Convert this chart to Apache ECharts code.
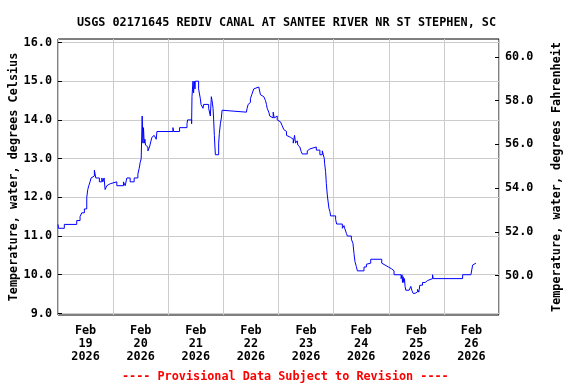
<!DOCTYPE html>
<html><head><meta charset="utf-8">
<script src="https://cdn.jsdelivr.net/npm/echarts@6/dist/echarts.min.js"></script>
<style>html,body{margin:0;padding:0;background:#fff}#c{width:576px;height:384px}</style>
</head><body><div id="c"></div>
<script>
const chartTitle = 'USGS 02171645 REDIV CANAL AT SANTEE RIVER NR ST STEPHEN, SC';
const footerText = '---- Provisional Data Subject to Revision ----';
const leftAxisName = 'Temperature, water, degrees Celsius';
const rightAxisName = 'Temperature, water, degrees Fahrenheit';
const monthLabel = 'Feb';
const yearLabel = '2026';
const dayLabels = ['19', '20', '21', '22', '23', '24', '25', '26'];
const labelHours = [12, 36, 60, 84, 108, 132, 156, 180];
const celsiusTicks = [9, 10, 11, 12, 13, 14, 15, 16];
const fahrenheitTicks = [50, 52, 54, 56, 58, 60];

// hours since 2026-02-19 00:00
const hours = [0, 0.22, 2.75, 8.16, 9.60, 10.34, 11.48, 12.52, 12.96, 13.40, 13.96, 14.40, 14.97, 15.84, 16.45,
  18.02, 19.07, 19.51, 20.07, 20.51, 21.25, 21.95, 22.69, 25.61, 28.49, 29.24, 29.98, 31.42, 33.16, 34.78,
  35.35, 35.78, 36.22, 36.65, 36.96, 37.22, 37.53, 37.83, 38.09, 38.71, 39.14, 39.84, 40.45, 40.89, 41.32,
  41.89, 42.33, 42.76, 43.07, 45.25, 45.69, 50.05, 50.31, 52.93, 56.16, 56.42, 58.17, 58.34, 58.78, 59.04,
  59.35, 59.65, 59.78, 61.22, 61.96, 62.27, 63.14, 63.40, 65.59, 66.33, 66.76, 67.07, 67.51, 67.77, 68.07,
  68.51, 69.95, 70.25, 70.69, 71.13, 71.43, 71.70, 72.00, 82.04, 82.34, 82.78, 83.22, 83.78, 84.35, 84.79,
  85.22, 85.96, 87.40, 88.15, 88.45, 89.59, 90.33, 90.76, 91.07, 91.77, 92.20, 92.95, 93.69, 94.12, 94.69,
  95.43, 96.13, 96.87, 97.61, 98.31, 99.05, 99.49, 100.06, 101.24, 102.42, 102.98, 103.42, 103.72, 104.16,
  104.42, 104.86, 105.30, 105.90, 106.34, 108.52, 108.96, 109.66, 112.45, 114.02, 115.07, 115.51, 115.94,
  116.07, 116.51, 116.82, 117.25, 117.51, 117.95, 118.39, 118.69, 120.87, 121.31, 123.80, 124.50, 124.80,
  125.24, 125.54, 125.98, 127.72, 128.42, 128.86, 129.29, 129.91, 130.34, 133.22, 134.27, 135.14, 136.15,
  140.94, 141.51, 142.39, 143.87, 145.31, 146.31, 149.37, 149.80, 149.98, 150.24, 150.54, 150.85, 151.11,
  151.42, 152.86, 153.60, 154.04, 154.60, 155.48, 156.52, 157.09, 157.53, 158.71, 159.84, 160.89, 163.07,
  163.33, 176.16, 179.78, 180.52, 181.22, 181.96];
const tempC = [11.3, 11.2, 11.3, 11.4, 11.5, 11.6, 11.7, 12.0, 12.2, 12.3, 12.4, 12.5, 12.55, 12.7, 12.5,
  12.4, 12.5, 12.4, 12.5, 12.2, 12.3, 12.35, 12.4, 12.3, 12.4, 12.3, 12.5, 12.4, 12.5, 12.6,
  12.75, 12.9, 13.0, 14.1, 13.4, 13.8, 13.4, 13.5, 13.35, 13.3, 13.2, 13.3, 13.45, 13.55, 13.6,
  13.55, 13.6, 13.5, 13.7, 13.65, 13.7, 13.8, 13.7, 13.8, 13.9, 14.0, 13.9, 14.6, 15.0, 14.7,
  15.0, 14.8, 15.0, 14.8, 14.55, 14.4, 14.3, 14.4, 14.3, 14.1, 14.6, 14.5, 14.3, 14.0, 13.6,
  13.1, 13.4, 13.65, 13.9, 14.05, 14.25, 14.3, 14.2, 14.25, 14.3, 14.4, 14.45, 14.55, 14.65, 14.7,
  14.8, 14.85, 14.8, 14.65, 14.6, 14.55, 14.5, 14.4, 14.3, 14.2, 14.1, 14.05, 14.2, 14.05, 14.1,
  14.0, 13.95, 13.9, 13.85, 13.75, 13.7, 13.6, 13.55, 13.5, 13.4, 13.6, 13.4, 13.38, 13.46,
  13.35, 13.3, 13.25, 13.18, 13.12, 13.2, 13.25, 13.3, 13.22, 13.1, 13.2, 13.1, 13.0,
  12.88, 12.66, 12.36, 12.06, 11.93, 11.72, 11.63, 11.52, 11.43, 11.31, 11.2, 11.27, 11.2,
  11.13, 11.07, 11.0, 10.92, 10.81, 10.55, 10.34, 10.21, 10.1, 10.2, 10.27, 10.3, 10.4,
  10.3, 10.25, 10.2, 10.15, 10.1, 10.0, 9.9, 10.0, 9.8, 9.95, 9.8, 9.9, 9.7,
  9.6, 9.65, 9.7, 9.6, 9.52, 9.56, 9.62, 9.55, 9.73, 9.8, 9.85, 9.9, 10.0,
  9.9, 10.0, 10.05, 10.25, 10.3, 10.3];

const FONT = 'DejaVu Sans Mono';
const FS = 11.8;
const chart = echarts.init(document.getElementById('c'), null, {renderer: 'canvas'});
chart.setOption({
  animation: false,
  backgroundColor: '#ffffff',
  title: [
    {text: chartTitle, left: 72, top: 12,
     textStyle: {fontFamily: FONT, fontWeight: 'bold', fontSize: FS, color: '#000'}},
    {text: footerText, left: 117, top: 366,
     textStyle: {fontFamily: FONT, fontWeight: 'bold', fontSize: FS, color: '#ff0000'}}
  ],
  grid: {left: 58, right: 77, top: 39, bottom: 69, show: true, outerBoundsMode: 'none', containLabel: false,
         borderColor: '#000', borderWidth: 1, backgroundColor: 'transparent'},
  xAxis: {
    type: 'value', min: 0, max: 192, interval: 24,
    axisLine: {show: false},
    axisTick: {show: false},
    splitLine: {show: true, lineStyle: {color: '#cccccc', width: 1}},
    axisLabel: {
      customValues: labelHours,
      margin: 9,
      lineHeight: 13,
      fontFamily: FONT, fontWeight: 'bold', fontSize: FS, color: '#000',
      formatter: v => monthLabel + '\n' + dayLabels[labelHours.indexOf(Math.round(v))] + '\n' + yearLabel
    }
  },
  yAxis: [
    {
      type: 'value', position: 'left', min: 8.96, max: 16.09,
      name: leftAxisName, nameLocation: 'middle', nameGap: 38, nameRotate: 90, nameMoveOverlap: false,
      nameTextStyle: {fontFamily: FONT, fontWeight: 'bold', fontSize: FS, color: '#000'},
      axisLine: {show: false},
      axisTick: {show: true, inside: true, length: 4, customValues: celsiusTicks, lineStyle: {color: '#000'}},
      splitLine: {show: true, lineStyle: {color: '#cccccc', width: 1}},
      axisLabel: {customValues: celsiusTicks, margin: 6, fontFamily: FONT, fontWeight: 'bold', fontSize: FS,
                  color: '#000', formatter: v => v.toFixed(1)}
    },
    {
      type: 'value', position: 'right', min: 48.2, max: 60.82,
      name: rightAxisName, nameLocation: 'middle', nameGap: 52, nameRotate: 90,
      nameTextStyle: {fontFamily: FONT, fontWeight: 'bold', fontSize: FS, color: '#000'},
      axisLine: {show: false},
      axisTick: {show: true, inside: true, length: 4, customValues: fahrenheitTicks, lineStyle: {color: '#000'}},
      splitLine: {show: false},
      axisLabel: {customValues: fahrenheitTicks, margin: 6, fontFamily: FONT, fontWeight: 'bold', fontSize: FS,
                  color: '#000', formatter: v => v.toFixed(1)}
    }
  ],
  series: [{
    type: 'line', yAxisIndex: 0, step: 'end', showSymbol: false, symbol: 'none',
    lineStyle: {color: '#0000ff', width: 1},
    data: hours.map((h, i) => [h, tempC[i]])
  }]
});
</script></body></html>
